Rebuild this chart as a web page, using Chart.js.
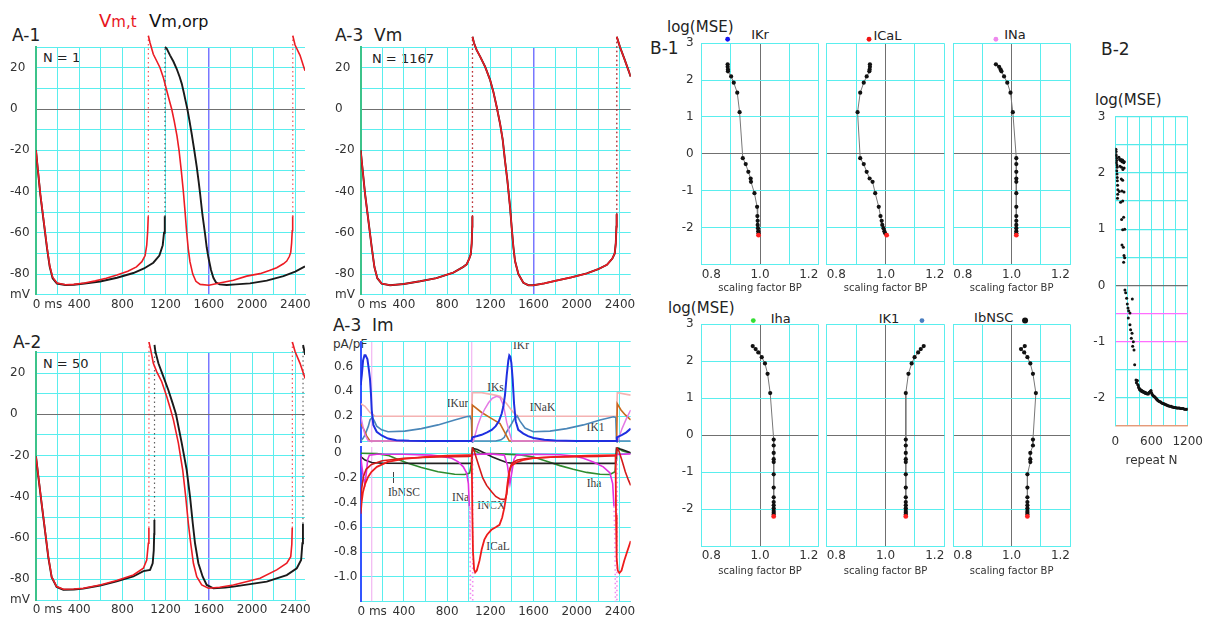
<!DOCTYPE html>
<html><head><meta charset="utf-8">
<script src="https://cdn.jsdelivr.net/npm/chart.js@4.4.1/dist/chart.umd.min.js"></script>
<style>
html,body{margin:0;padding:0;background:#fff;}
#root{position:relative;width:1207px;height:621px;overflow:hidden;font-family:'DejaVu Sans',sans-serif;}
.c{position:absolute;}
.t{position:absolute;white-space:pre;line-height:1;color:#222;transform:translateY(-50%);}
.m{position:absolute;white-space:pre;line-height:1;color:#222;transform:translate(-50%,-50%);font-size:13px;}
.s{position:absolute;white-space:pre;line-height:1;font-family:'Liberation Serif',serif;font-size:11.5px;color:#3a3a3a;transform:translate(-50%,-50%);}
</style></head><body>
<div id="root">
<div class="t" style="left:12px;top:35px;font-size:17px;">A-1</div>
<div style="position:absolute;left:99px;top:11.5px;font-size:18px;line-height:18px;color:#e8141c;white-space:pre;">V<span style="font-size:15px">m,t</span></div>
<div style="position:absolute;left:149px;top:11.5px;font-size:18px;line-height:18px;color:#111;white-space:pre;">V<span style="font-size:16px">m,orp</span></div>
<div class="t" style="left:43px;top:57px;font-size:13px;">N = 1</div>
<div class="t" style="left:335px;top:34.5px;font-size:17px;">A-3  Vm</div>
<div class="t" style="left:372px;top:57.5px;font-size:13px;">N = 1167</div>
<div class="t" style="left:13px;top:341.5px;font-size:17px;">A-2</div>
<div class="t" style="left:43px;top:363px;font-size:13px;">N = 50</div>
<div class="t" style="left:333px;top:325px;font-size:17px;">A-3  Im</div>
<div class="t" style="left:333px;top:344px;font-size:12px;color:#333;">pA/pF</div>
<div class="t" style="left:650px;top:48px;font-size:17px;">B-1</div>
<div class="t" style="left:667px;top:27px;font-size:15px;">log(MSE)</div>
<div class="t" style="left:668px;top:307.5px;font-size:15px;">log(MSE)</div>
<div class="t" style="left:1101px;top:49px;font-size:17px;">B-2</div>
<div class="t" style="left:1095px;top:100px;font-size:15px;">log(MSE)</div>
<div class="m" style="left:760px;top:34px;">IKr</div>
<div class="m" style="left:887.5px;top:35px;">ICaL</div>
<div class="m" style="left:1015px;top:34px;">INa</div>
<div class="m" style="left:780.7px;top:318px;">Iha</div>
<div class="m" style="left:889px;top:318px;">IK1</div>
<div class="m" style="left:993.7px;top:317px;">IbNSC</div>
<div class="s" style="left:521px;top:346px;">IKr</div>
<div class="s" style="left:495.5px;top:387.5px;">IKs</div>
<div class="s" style="left:457.5px;top:404px;">IKur</div>
<div class="s" style="left:542.5px;top:408px;">INaK</div>
<div class="s" style="left:595.5px;top:427.5px;">IK1</div>
<div class="s" style="left:404px;top:492.5px;">IbNSC</div>
<div class="s" style="left:460.5px;top:497.5px;">INa</div>
<div class="s" style="left:491.3px;top:506px;">INCX</div>
<div class="s" style="left:498px;top:546.7px;">ICaL</div>
<div class="s" style="left:594px;top:484px;">Iha</div>
<div style="position:absolute;left:393px;top:472px;width:1px;height:11px;background:#444;"></div>
</div>
<script>
// ---------------- DATA ----------------
// A panels: time (ms) / membrane potential (mV) pairs
const A1_VMT = [[0,-20],[15,-28],[40,-41],[71,-54],[102,-67],[127,-76],[154,-81.5],[194,-84.3],[272,-85.2],[350,-85],[450,-84.3],[550,-83.3],[650,-82],[750,-80.5],[850,-78.6],[930,-76.5],[980,-74],[1010,-71],[1025,-66],[1034,-59],[1039,-52],[1040,35.5],[1056,32],[1086,26.5],[1115,23.5],[1148,20],[1180,15],[1210,9],[1235,4],[1256,0],[1280,-6],[1305,-13],[1324,-20],[1345,-30],[1364,-40],[1380,-50],[1395,-60],[1410,-68],[1425,-74],[1451,-80],[1480,-83.5],[1520,-85],[1600,-85.4],[1700,-84.3],[1827,-83],[1950,-81],[2074,-79.8],[2160,-78.3],[2228,-76.9],[2290,-75],[2321,-73.7],[2345,-71.5],[2358,-69.5],[2366,-65],[2372,-59],[2376,-52],[2377,35.5],[2398,31],[2444,26],[2490,18.5]];
const A1_VMORP = [[0,-20],[15,-28.3],[40,-41.5],[71,-54.5],[102,-67.5],[127,-76.5],[154,-82],[194,-84.6],[272,-85.3],[350,-85.2],[450,-84.6],[593,-83.6],[750,-81.8],[901,-79.5],[1000,-77.3],[1086,-74.5],[1142,-71],[1173,-66],[1185,-60],[1191,-54],[1193,-52],[1194,30],[1210,29.3],[1241,26],[1272,23],[1302,19.5],[1330,15.5],[1349,12.3],[1370,7.5],[1383,4.3],[1401,0],[1420,-5.5],[1441,-12],[1465,-20],[1488,-28],[1505,-35],[1519,-41],[1540,-51],[1565,-60.6],[1580,-67],[1596,-72],[1620,-78],[1642,-81.8],[1665,-84],[1700,-85],[1765,-85.3],[1850,-85],[1981,-84.5],[2136,-83.2],[2290,-81],[2400,-78.8],[2490,-76.3]];
const A2_VMT = [[0,-20.5],[22,-30],[52,-43],[83,-56],[114,-69],[145,-78.7],[191,-83.5],[253,-84.8],[350,-84.7],[438,-84.3],[593,-82.7],[747,-80.6],[901,-77.9],[994,-74.6],[1025,-70.6],[1040,-62.5],[1045,-55],[1046,35],[1062,31.2],[1086,24.7],[1117,20.7],[1164,15.8],[1210,8.6],[1247,2.1],[1272,-2.7],[1318,-14],[1358,-27],[1386,-40],[1410,-52.8],[1432,-62.5],[1457,-72.2],[1488,-78.7],[1534,-82.7],[1596,-84.3],[1700,-83.8],[1827,-82.7],[2074,-79.5],[2228,-75.4],[2321,-72.2],[2358,-69],[2368,-63],[2372,-55],[2373,35],[2398,30.4],[2444,24.7],[2491,17.4]];
const A2_VMORP = [[0,-20.5],[22,-30.3],[52,-43.3],[83,-56.3],[114,-69.3],[145,-79],[191,-83.7],[253,-85],[350,-84.9],[438,-84.5],[593,-83],[747,-81],[901,-78.6],[994,-76],[1056,-75.4],[1080,-72.2],[1090,-66],[1094,-58],[1096,-51.2],[1097,33.6],[1105,30.4],[1133,24.7],[1179,18.3],[1225,11.8],[1265,5.3],[1296,0],[1349,-14],[1395,-27],[1426,-40],[1451,-52.8],[1472,-62.5],[1503,-72.2],[1543,-78.7],[1580,-82.7],[1642,-84.3],[1750,-84],[1827,-83.5],[2136,-81.1],[2321,-77.9],[2414,-74.6],[2454,-70.6],[2466,-62.5],[2471,-53],[2472,33.6],[2485,30.4],[2491,28.8]];
const A3_VM = [[0,-20],[15,-28],[40,-41],[71,-54],[102,-67],[127,-76.6],[154,-82],[194,-84.6],[272,-85.4],[400,-84.8],[550,-83.5],[700,-82],[858,-79.3],[950,-76.5],[981,-75.3],[1005,-72.5],[1019,-70.4],[1028,-65],[1033,-57],[1034,-52],[1035,35],[1049,32],[1074,28.5],[1105,25.5],[1151,20.6],[1198,14.1],[1228,8.4],[1259,1.1],[1290,-7],[1315,-15],[1336,-25],[1358,-34.6],[1383,-47.6],[1398,-57.4],[1414,-67],[1429,-73.7],[1460,-80],[1506,-84.2],[1552,-85.4],[1600,-85.4],[1700,-84.5],[1800,-83.3],[1950,-81.6],[2093,-79.7],[2200,-77.6],[2280,-75.5],[2330,-72.5],[2352,-70],[2362,-65],[2368,-57],[2370,-51],[2371,35],[2401,30],[2440,24.5],[2500,15.7]];
// A-3 Im: outward currents (pA/pF)
const IM_IKR = [[0,0.45],[10,0.53],[22,0.65],[35,0.69],[45,0.69],[62,0.66],[75,0.58],[86,0.5],[95,0.38],[102,0.25],[117,0.13],[148,0.075],[194,0.045],[253,0.02],[330,0.006],[450,0.002],[600,0],[1025,0],[1034,0.03],[1080,0.04],[1120,0.05],[1170,0.07],[1213,0.09],[1250,0.12],[1280,0.16],[1305,0.22],[1321,0.28],[1336,0.37],[1352,0.53],[1367,0.65],[1376,0.69],[1385,0.68],[1395,0.63],[1407,0.5],[1420,0.3],[1435,0.16],[1459,0.09],[1506,0.06],[1550,0.04],[1600,0.025],[1700,0.01],[1800,0.004],[2000,0],[2365,0],[2372,0.03],[2420,0.05],[2460,0.07],[2500,0.1]];
const IM_IK1 = [[0,0],[20,0.02],[40,0.05],[71,0.12],[86,0.17],[108,0.19],[127,0.16],[148,0.12],[194,0.09],[253,0.075],[407,0.08],[562,0.1],[716,0.13],[870,0.17],[978,0.195],[1012,0.2],[1025,0.17],[1031,0.02],[1036,0],[1250,0],[1300,0.01],[1330,0.03],[1352,0.075],[1398,0.14],[1429,0.19],[1450,0.2],[1475,0.16],[1521,0.105],[1598,0.075],[1753,0.08],[1907,0.1],[2062,0.13],[2216,0.17],[2340,0.195],[2362,0.19],[2368,0.02],[2373,0],[2500,0]];
const IM_INAK = [[0,0.3],[40,0.28],[86,0.23],[132,0.2],[400,0.2],[1028,0.2],[1034,0.39],[1120,0.39],[1244,0.37],[1290,0.36],[1352,0.3],[1413,0.23],[1459,0.2],[2370,0.2],[2376,0.39],[2500,0.37]];
const IM_IKUR = [[0,0.14],[25,0.1],[56,0.04],[86,0],[1028,0],[1034,0.29],[1120,0.23],[1213,0.18],[1290,0.14],[1321,0.09],[1352,0.04],[1376,0],[2370,0],[2376,0.3],[2410,0.25],[2450,0.21],[2500,0.17]];
const IM_IKS = [[0,0.2],[20,0.12],[40,0.05],[70,0],[1043,0],[1060,0.05],[1085,0.13],[1115,0.2],[1150,0.26],[1185,0.31],[1220,0.345],[1259,0.36],[1290,0.35],[1321,0.29],[1352,0.15],[1383,0.05],[1400,0],[2380,0],[2420,0.1],[2460,0.18],[2500,0.25]];
const IM_MARK1 = [[102,-0.02],[102,0.8]];
const IM_MARK2 = [[1028,-0.02],[1028,0.8]];
// A-3 Im: inward currents (pA/pF)
const IM_ICAL = [[0,-0.49],[8,-0.4],[20,-0.32],[40,-0.25],[70,-0.19],[100,-0.15],[150,-0.11],[250,-0.07],[400,-0.045],[600,-0.03],[800,-0.02],[1000,-0.015],[1028,-0.015],[1034,-0.5],[1040,-0.8],[1050,-0.94],[1060,-0.965],[1075,-0.95],[1100,-0.87],[1120,-0.78],[1145,-0.7],[1170,-0.66],[1210,-0.62],[1250,-0.6],[1285,-0.58],[1310,-0.52],[1330,-0.44],[1345,-0.36],[1360,-0.24],[1375,-0.15],[1395,-0.1],[1440,-0.075],[1500,-0.055],[1600,-0.04],[1800,-0.03],[2100,-0.02],[2360,-0.015],[2364,-0.5],[2370,-0.85],[2380,-0.95],[2395,-0.97],[2415,-0.95],[2440,-0.87],[2470,-0.79],[2500,-0.71]];
const IM_INCX = [[0,-0.38],[10,-0.28],[25,-0.19],[50,-0.13],[100,-0.09],[200,-0.06],[400,-0.04],[700,-0.03],[1000,-0.025],[1030,-0.02],[1036,0.04],[1050,0.02],[1075,-0.05],[1100,-0.12],[1130,-0.2],[1166,-0.26],[1210,-0.31],[1250,-0.35],[1290,-0.37],[1336,-0.375],[1352,-0.33],[1367,-0.22],[1383,-0.12],[1400,-0.08],[1450,-0.055],[1550,-0.04],[1800,-0.03],[2200,-0.025],[2368,-0.02],[2374,0.04],[2390,0.02],[2420,-0.06],[2450,-0.15],[2480,-0.22],[2500,-0.26]];
const IM_INA = [[0,-0.015],[10,-0.1],[25,-0.2],[40,-0.245],[52,-0.16],[65,-0.05],[80,-0.015],[150,-0.008],[400,-0.008],[650,-0.015],[750,-0.025],[843,-0.04],[904,-0.07],[950,-0.11],[981,-0.16],[997,-0.245],[1006,-0.43],[1012,-0.7],[1018,-1.3],[1034,-1.3],[1037,-0.01],[1200,-0.005],[1330,-0.015],[1359,-0.1],[1382,-0.245],[1398,-0.16],[1419,-0.05],[1440,-0.015],[1600,-0.008],[1850,-0.012],[2000,-0.025],[2061,-0.04],[2154,-0.07],[2246,-0.11],[2308,-0.16],[2333,-0.245],[2345,-0.43],[2354,-0.7],[2360,-1.3],[2372,-1.3],[2375,-0.01],[2500,-0.005]];
const IM_IBNSC = [[0,-0.027],[40,-0.055],[102,-0.075],[194,-0.08],[600,-0.082],[1000,-0.082],[1028,-0.08],[1034,0.04],[1080,0.03],[1150,0.0],[1220,-0.03],[1290,-0.054],[1352,-0.075],[1413,-0.082],[1800,-0.082],[2360,-0.082],[2368,0.04],[2420,0.03],[2500,0.005]];
const IM_IHA = [[0,0],[150,-0.003],[253,-0.017],[346,-0.05],[438,-0.08],[562,-0.115],[716,-0.15],[870,-0.17],[963,-0.172],[1009,-0.16],[1025,-0.08],[1031,0],[1040,0.045],[1060,0.02],[1100,0],[1290,-0.005],[1475,-0.013],[1598,-0.03],[1722,-0.065],[1845,-0.1],[1968,-0.13],[2092,-0.155],[2216,-0.17],[2308,-0.172],[2355,-0.15],[2364,-0.05],[2370,0.03],[2380,0.045],[2420,0.02],[2500,0.0]];
const IM_MARK3 = [[102,0.05],[102,-1.2]];
// B-1: log(MSE) per repeat and scaling factor BP of each current
const B1_LOG_TOP = [2.43,2.36,2.29,2.24,2.10,1.93,1.66,1.13,-0.12,-0.28,-0.49,-0.67,-0.76,-1.07,-1.44,-1.69,-1.82,-1.93,-2.02,-2.10,-2.16,-2.21];
const B1_IKR  = [0.889,0.889,0.890,0.890,0.901,0.910,0.922,0.930,0.941,0.951,0.960,0.968,0.969,0.981,0.990,0.991,0.992,0.992,0.993,0.994,0.995,0.995];
const B1_ICAL = [0.947,0.947,0.946,0.945,0.936,0.926,0.914,0.905,0.914,0.926,0.936,0.946,0.956,0.965,0.977,0.983,0.987,0.989,0.993,0.996,0.999,1.004];
const B1_INA  = [0.946,0.957,0.962,0.965,0.974,0.985,0.996,1.004,1.016,1.016,1.016,1.016,1.016,1.016,1.016,1.016,1.016,1.016,1.016,1.016,1.016,1.016];
const B1_LOG_BOT = [2.41,2.33,2.24,2.11,1.94,1.66,1.14,-0.12,-0.28,-0.48,-0.65,-0.73,-1.06,-1.42,-1.68,-1.81,-1.9,-1.98,-2.05,-2.1,-2.15,-2.2];
const B1_IHA   = [0.975,0.985,0.994,1.006,1.017,1.026,1.035,1.047,1.047,1.047,1.047,1.047,1.047,1.047,1.047,1.047,1.047,1.047,1.047,1.047,1.047,1.047];
const B1_IK1   = [1.130,1.120,1.111,1.099,1.089,1.078,1.069,1.069,1.069,1.069,1.069,1.069,1.069,1.069,1.069,1.069,1.069,1.069,1.069,1.069,1.069,1.069];
const B1_IBNSC = [1.045,1.032,1.043,1.054,1.064,1.073,1.083,1.073,1.073,1.064,1.064,1.064,1.054,1.054,1.054,1.054,1.054,1.054,1.054,1.054,1.054,1.054];
const B1_MARK_X = [0.889,0.944,0.946,0.977,1.124,1.046];
const B1_MARK_Y = [3.11,3.11,3.11,3.1,3.1,3.1];
const B1_MARK_COL = ['#1414f0','#f01414','#ee88ee','#33dd33','#4a7ec0','#111111'];
// B-2: repeat N vs log(MSE)
const B2_PTS = [[10,2.42],[14,2.38],[12,2.33],[16,2.3],[20,2.26],[22,2.22],[18,2.18],[26,2.14],[30,2.1],[24,2.04],[28,1.98],[32,1.92],[34,1.86],[38,1.78],[42,1.7],[40,1.62],[36,1.55],[60,2.28],[72,2.24],[85,2.22],[96,2.24],[110,2.2],[120,2.23],[130,2.21],[140,2.18],[150,2.2],[78,2.12],[104,2.1],[126,2.06],[146,2.09],[100,1.89],[122,1.87],[66,1.67],[110,1.68],[144,1.66],[88,1.48],[122,1.5],[138,1.21],[105,1.17],[122,0.99],[156,1.0],[111,0.72],[133,0.68],[144,0.53],[155,0.49],[138,0.41],[160,-0.08],[172,-0.13],[188,-0.23],[199,-0.33],[210,-0.4],[221,-0.45],[243,-0.49],[282,-0.24],[216,-0.58],[243,-0.7],[254,-0.79],[277,-0.85],[265,-0.94],[299,-1.0],[288,-1.08],[310,-1.15],[321,-1.41],[343,-1.68],[350,-1.73],[358,-1.7],[365,-1.69],[372,-1.76],[380,-1.78],[387,-1.81],[395,-1.83],[402,-1.85],[410,-1.86],[418,-1.85],[425,-1.87],[432,-1.88],[440,-1.87],[448,-1.89],[456,-1.88],[465,-1.9],[474,-1.89],[483,-1.91],[492,-1.9],[500,-1.92],[510,-1.91],[520,-1.92],[530,-1.93],[540,-1.92],[548,-1.93],[556,-1.91],[565,-1.9],[575,-1.89],[584,-1.88],[592,-1.87],[600,-1.91],[608,-1.93],[618,-1.95],[630,-1.96],[640,-1.97],[650,-1.98],[660,-1.99],[670,-2.0],[680,-2.02],[690,-2.02],[700,-2.04],[712,-2.05],[724,-2.06],[736,-2.07],[748,-2.07],[760,-2.08],[772,-2.09],[784,-2.1],[796,-2.1],[808,-2.11],[820,-2.11],[832,-2.12],[845,-2.12],[858,-2.13],[870,-2.14],[884,-2.14],[898,-2.15],[912,-2.15],[926,-2.15],[940,-2.16],[955,-2.16],[970,-2.17],[985,-2.17],[1000,-2.17],[1016,-2.18],[1032,-2.18],[1048,-2.18],[1064,-2.18],[1080,-2.19],[1096,-2.19],[1112,-2.19],[1128,-2.19],[1144,-2.2],[1160,-2.2],[1176,-2.2],[1192,-2.2]];
// tick values
const A_XTICKS = [0,200,400,600,800,1000,1200,1400,1600,1800,2000,2200,2400];
const A_YTICKS = [-90,-80,-70,-60,-50,-40,-30,-20,-10,0,10,20,30];
const IM_UP_TICKS = [0,0.2,0.4,0.6,0.8];
const IM_LO_TICKS = [-1.2,-1.0,-0.8,-0.6,-0.4,-0.2,0];
const B1_XTICKS = [0.8,0.9,1.0,1.1,1.2];
const B1_YTICKS = [-3,-2,-1,0,1,2,3];
const B2_XTICKS = [0,200,400,600,800,1000,1200];
const B2_YTICKS = [-2.5,-2,-1.5,-1,-0.5,0,0.5,1,1.5,2,2.5,3];

// ---------------- RENDER ----------------
const root = document.getElementById('root');
const CYAN = '#5aeeee', GREEN = '#3cc38a', ZERO = '#707070', BLUEV = '#7878ff', RED = '#ec1c24', BLACK = '#1a1a1a';
const MAGL = '#ff6eff', ORNG = '#e59a7a';
Chart.defaults.font.family = "'DejaVu Sans', sans-serif";
Chart.defaults.font.size = 12;
Chart.defaults.color = '#333';

const pts = a => a.map(p => ({x: p[0], y: p[1]}));
const near = (a, b) => Math.abs(a - b) < 1e-6;
const ticksAt = vals => axis => { axis.ticks = vals.map(v => ({value: v})); };

function build(area, o) {
  const left = Math.floor(area.l - o.yW), top = Math.floor(area.t - o.padT);
  const yW = area.l - left, padT = area.t - top;
  const W = Math.ceil(area.r - left + o.padR), H = Math.ceil(area.b - top + o.xH);
  const padR = W - (area.r - left), padB = H - (area.b - top) - o.xH;
  const div = document.createElement('div');
  div.className = 'c';
  Object.assign(div.style, {left: left + 'px', top: top + 'px', width: W + 'px', height: H + 'px'});
  const cv = document.createElement('canvas');
  cv.width = W; cv.height = H; cv.style.width = W + 'px'; cv.style.height = H + 'px';
  div.appendChild(cv); root.appendChild(div);
  const x = o.x, y = o.y;
  x.afterFit = s => { s.height = o.xH; s.paddingLeft = 0; s.paddingRight = 0; s.paddingTop = 0; s.paddingBottom = 0; };
  y.afterFit = s => { s.width = yW; s.paddingLeft = 0; s.paddingRight = 0; s.paddingTop = 0; s.paddingBottom = 0; };
  return new Chart(cv, {
    type: 'scatter',
    data: {datasets: o.datasets},
    options: {
      responsive: false, animation: false, devicePixelRatio: 1, events: [],
      layout: {autoPadding: false, padding: {left: 0, top: padT, right: padR, bottom: padB}},
      plugins: {legend: {display: false}, tooltip: {enabled: false}},
      scales: {x: x, y: y}
    }
  });
}

function line(arr, color, width, extra) {
  return Object.assign({data: pts(arr), showLine: true, borderColor: color, borderWidth: width,
    pointRadius: 0, pointHoverRadius: 0, fill: false, tension: 0}, extra || {});
}
const isUp = c => (c.p1.parsed.y - c.p0.parsed.y) > 20 * Math.max(1, c.p1.parsed.x - c.p0.parsed.x);
const upSeg = col => ({
  borderDash: c => isUp(c) ? [1.5, 3] : undefined,
  borderWidth: c => isUp(c) ? 1.2 : undefined,
  borderColor: c => isUp(c) ? col : undefined
});
const CLIPTOP = {left: 0, right: 0, top: 25, bottom: 0};

// ---- A panels (membrane potential) ----
function aScales(xmax) {
  return {
    x: {type: 'linear', min: 0, max: xmax, afterBuildTicks: ticksAt(A_XTICKS),
      grid: {color: c => c.tick.value === 1600 ? BLUEV : CYAN, lineWidth: c => c.tick.value === 1600 ? 1.5 : 1, drawTicks: false},
      border: {color: CYAN, width: 1},
      ticks: {autoSkip: false, maxRotation: 0, padding: 3,
        callback: v => v === 0 ? '      0 ms' : (v % 400 === 0 ? String(v) : '')}},
    y: {type: 'linear', min: -90, max: 30, afterBuildTicks: ticksAt(A_YTICKS),
      grid: {color: c => c.tick.value === 0 ? ZERO : CYAN, drawTicks: false},
      border: {color: GREEN, width: 2},
      ticks: {autoSkip: false, crossAlign: 'far', padding: 0,
        callback: v => v === -90 ? 'mV' : (v % 20 === 0 ? String(v) : '')}}
  };
}
function aChart(area, xmax, red, black, xH) {
  const s = aScales(xmax);
  build(area, {yW: area.l - area.lab, padT: 16, padR: 16, xH: xH, x: s.x, y: s.y, datasets: [
    line(red, RED, 1.6, {segment: upSeg('rgba(236,28,36,0.75)'), clip: CLIPTOP}),
    line(black, BLACK, 1.9, {segment: upSeg('rgba(30,30,30,0.7)'), clip: CLIPTOP})
  ]});
}
aChart({l: 36, r: 305, t: 47.1, b: 294.7, lab: 10}, 2490, A1_VMT, A1_VMORP, 22);
aChart({l: 36, r: 305, t: 352.4, b: 600, lab: 10}, 2490, A2_VMT, A2_VMORP, 20);
aChart({l: 360.7, r: 630.7, t: 47.1, b: 294.7, lab: 335}, 2500, A3_VM, A3_VM, 22);

// ---- A-3 Im ----
const imX = (showLabels) => ({type: 'linear', min: 0, max: 2500, afterBuildTicks: ticksAt(A_XTICKS),
  grid: {color: CYAN, drawTicks: false},
  border: {display: showLabels, color: CYAN},
  ticks: {display: showLabels, autoSkip: false, maxRotation: 0, padding: 3,
    callback: v => v === 0 ? '      0 ms' : (v % 400 === 0 ? String(v) : '')}});
build({l: 360.7, r: 630.7, t: 341.7, b: 442.9}, {yW: 26.7, padT: 4, padR: 16, xH: 0,
  x: imX(false),
  y: {type: 'linear', min: -0.015, max: 0.8, afterBuildTicks: ticksAt(IM_UP_TICKS),
    grid: {color: CYAN, drawTicks: false}, border: {color: '#3355ff', width: 2},
    ticks: {autoSkip: false, crossAlign: 'far', padding: 0,
      callback: v => v > 0.79 ? '' : (v < 0.01 ? '0' : v.toFixed(1))}},
  datasets: [
    line(IM_IKR, '#1f2fe0', 2.0),
    line(IM_IKS, '#e47ae4', 1.5),
    line(IM_IKUR, '#c8691e', 1.6),
    line(IM_IK1, '#4a86b8', 1.6),
    line(IM_INAK, '#f4b2b2', 1.6),
    line(IM_MARK1, '#f2b6f2', 1.2),
    line(IM_MARK2, '#f2b6f2', 1.2)
  ]});
const inaSeg = {
  borderDash: c => (Math.abs(c.p1.parsed.y - c.p0.parsed.y) > 0.25) ? [1.5, 3] : undefined,
  borderColor: c => (Math.abs(c.p1.parsed.y - c.p0.parsed.y) > 0.25) ? '#f08af0' : undefined
};
build({l: 360.7, r: 630.7, t: 447.1, b: 601.4}, {yW: 26.7, padT: 2, padR: 16, xH: 22,
  x: imX(true),
  y: {type: 'linear', min: -1.2, max: 0.05, afterBuildTicks: ticksAt(IM_LO_TICKS),
    grid: {color: CYAN, drawTicks: false}, border: {color: '#3355ff', width: 2},
    ticks: {autoSkip: false, crossAlign: 'far', padding: 0,
      callback: v => v < -1.1 ? '' : (v > -0.01 ? '0' : v.toFixed(1))}},
  datasets: [
    line(IM_ICAL, '#ee1c1c', 1.8),
    line(IM_INCX, '#d41a1a', 1.6),
    line(IM_INA, '#e030e0', 1.6, {segment: inaSeg}),
    line(IM_IBNSC, '#222222', 1.6),
    line(IM_IHA, '#2e8b2e', 1.6),
    line(IM_MARK3, '#f2b6f2', 1.2)
  ]});

// ---- B-1 panels ----
function b1(area, xs, ys, markIdx, showY, xH) {
  const pcol = xs.map((v, i) => i === xs.length - 1 ? '#ff2020' : '#111');
  build(area, {yW: showY ? 42 : 10, padT: 10, padR: 4, xH: xH,
    x: {type: 'linear', min: 0.8, max: 1.2, afterBuildTicks: ticksAt(B1_XTICKS),
      grid: {color: c => near(c.tick.value, 1.0) ? ZERO : CYAN, drawTicks: false},
      border: {color: CYAN},
      title: {display: true, text: 'scaling factor BP', font: {size: 10}, padding: 0, color: '#333'},
      ticks: {autoSkip: false, maxRotation: 0, padding: 3, align: 'inner',
        callback: v => near(v, 0.8) ? '0.8' : near(v, 1.0) ? '1.0' : near(v, 1.2) ? '1.2' : ''}},
    y: {type: 'linear', min: -3, max: 3, afterBuildTicks: ticksAt(B1_YTICKS),
      grid: {color: c => c.tick.value === 0 ? ZERO : CYAN, drawTicks: false},
      border: {color: CYAN},
      ticks: {autoSkip: false, padding: 8, callback: v => (showY && v > -3) ? String(v) : ''}},
    datasets: [
      {data: [{x: B1_MARK_X[markIdx], y: B1_MARK_Y[markIdx]}], showLine: false, clip: false,
        pointRadius: markIdx === 5 ? 3 : 2.4, pointHoverRadius: 12, pointBackgroundColor: B1_MARK_COL[markIdx], pointBorderWidth: 0},
      {data: xs.map((v, i) => ({x: v, y: ys[i]})), showLine: true, borderColor: '#777', borderWidth: 1,
        pointRadius: xs.map((v, i) => i === xs.length - 1 ? 2.4 : 2.1), pointHoverRadius: 3, pointBackgroundColor: pcol, pointBorderWidth: 0, tension: 0}
    ]});
}
b1({l: 701.7, r: 818.3, t: 43.3, b: 264.3}, B1_IKR, B1_LOG_TOP, 0, true, 30);
b1({l: 826.7, r: 944.3, t: 43.3, b: 264.3}, B1_ICAL, B1_LOG_TOP, 1, false, 30);
b1({l: 953.3, r: 1070, t: 43.3, b: 264.3}, B1_INA, B1_LOG_TOP, 2, false, 30);
b1({l: 701.7, r: 818.3, t: 324.3, b: 546}, B1_IHA, B1_LOG_BOT, 3, true, 31.7);
b1({l: 826.7, r: 944.3, t: 324.3, b: 546}, B1_IK1, B1_LOG_BOT, 4, false, 31.7);
b1({l: 953.3, r: 1070, t: 324.3, b: 546}, B1_IBNSC, B1_LOG_BOT, 5, false, 31.7);

// ---- B-2 ----
const b2GridCol = c => {
  const v = (c && c.tick) ? c.tick.value : NaN;
  if (near(v, 0)) return ZERO;
  if (near(v, -0.5) || near(v, -1)) return MAGL;
  if (near(v, -2.5)) return ORNG;
  return '#55eaea';
};
build({l: 1115.3, r: 1187.7, t: 116.7, b: 426}, {yW: 30, padT: 5, padR: 16, xH: 42,
  x: {type: 'linear', min: 0, max: 1200, afterBuildTicks: ticksAt(B2_XTICKS),
    grid: {color: CYAN, drawTicks: false}, border: {color: ORNG, width: 1.3},
    title: {display: true, text: 'repeat N', font: {size: 12}, padding: 0, color: '#333'},
    ticks: {autoSkip: false, maxRotation: 0, padding: 9, callback: v => v % 600 === 0 ? String(v) : ''}},
  y: {type: 'linear', min: -2.5, max: 3, afterBuildTicks: ticksAt(B2_YTICKS),
    grid: {color: b2GridCol, lineWidth: 1.2, drawTicks: false},
    border: {color: CYAN},
    ticks: {autoSkip: false, padding: 10, callback: v => (Number.isInteger(v) && v > -2.5) ? String(v) : ''}},
  datasets: [{data: pts(B2_PTS), showLine: false, pointRadius: 1.5, pointHoverRadius: 1.5, pointBackgroundColor: '#111', pointBorderWidth: 0}]
});
</script>
</body></html>
